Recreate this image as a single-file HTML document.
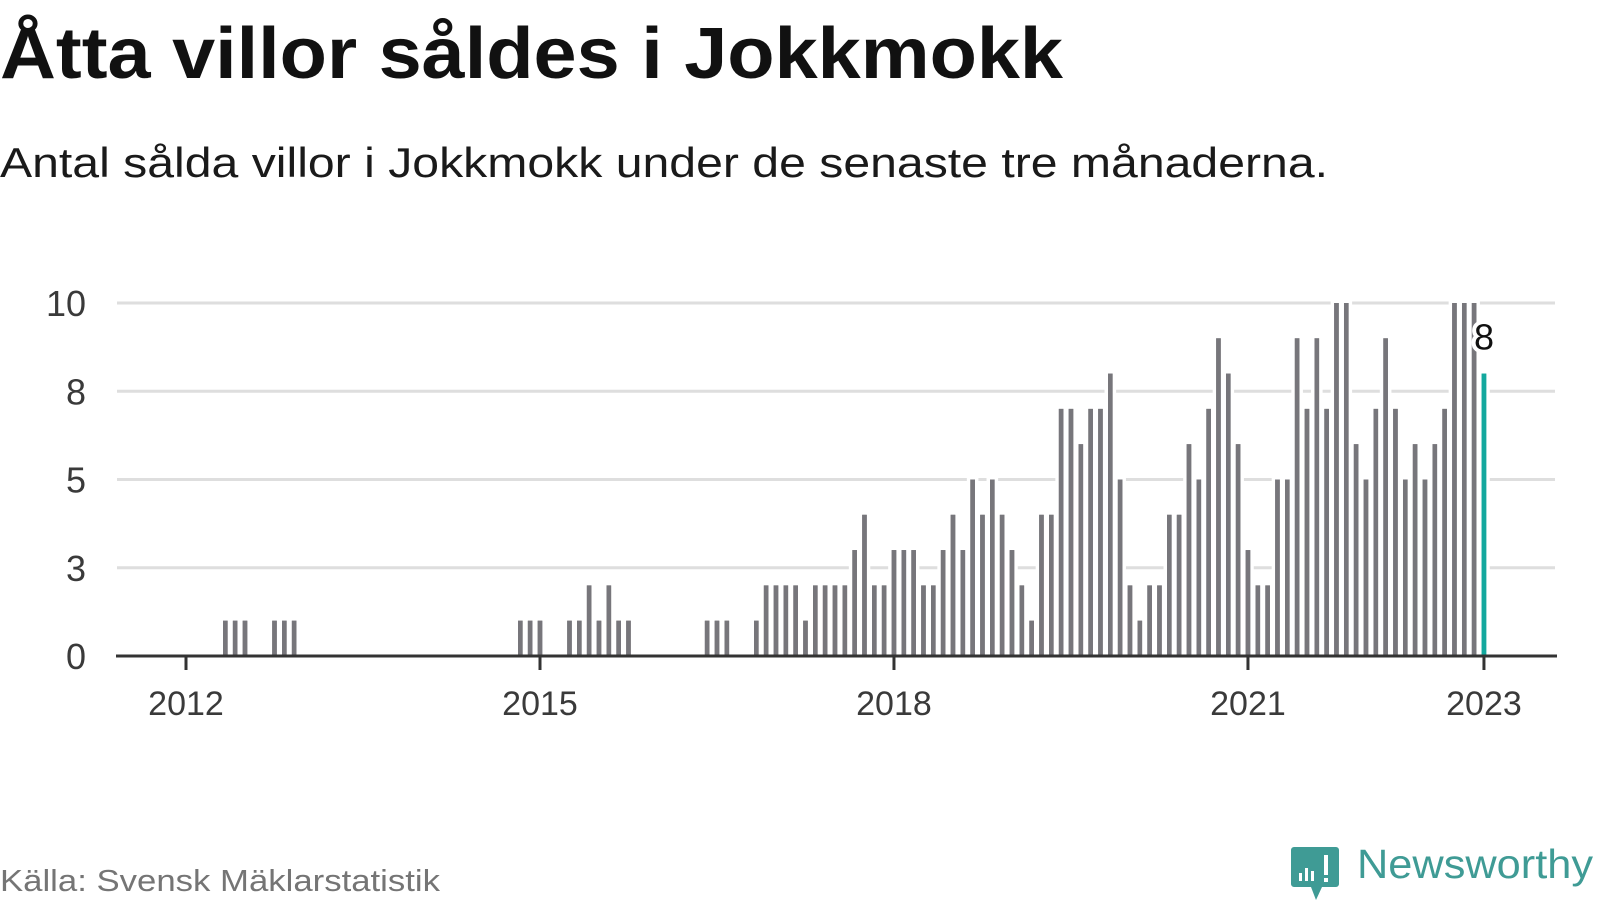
<!DOCTYPE html>
<html><head><meta charset="utf-8"><style>
html,body{margin:0;padding:0;background:#fff;}
svg{display:block;font-family:"Liberation Sans",sans-serif;}
</style></head><body>
<svg width="1600" height="900" viewBox="0 0 1600 900">
<text x="0" y="78" font-size="72" font-weight="bold" fill="#111" textLength="1063" lengthAdjust="spacingAndGlyphs">Åtta villor såldes i Jokkmokk</text>
<text x="0" y="177" font-size="42" fill="#1a1a1a" textLength="1328" lengthAdjust="spacingAndGlyphs">Antal sålda villor i Jokkmokk under de senaste tre månaderna.</text>
<g id="grid"></g>
<g id="bars"></g>
<g id="axes"></g>
<text x="0" y="891" font-size="31" fill="#757575" textLength="440" lengthAdjust="spacingAndGlyphs">Källa: Svensk Mäklarstatistik</text>
<g>
<path d="M1294 847 h42 a3 3 0 0 1 3 3 v34 a3 3 0 0 1 -3 3 h-14 l-6 13 l-5 -13 h-17 a3 3 0 0 1 -3 -3 v-34 a3 3 0 0 1 3 -3z" fill="#3f9b95"/>
<rect x="1299" y="873" width="3" height="8" fill="#fff"/><rect x="1305" y="868" width="3" height="13" fill="#fff"/><rect x="1311" y="871" width="3" height="10" fill="#fff"/><rect x="1324" y="855" width="4" height="20" fill="#fff"/><rect x="1324" y="878" width="4" height="4" fill="#fff"/>
<text x="1357" y="878" font-size="41" fill="#3f9b95" textLength="236" lengthAdjust="spacingAndGlyphs">Newsworthy</text>
</g>
</svg>
<script>
const values = [0,0,0,0,1,1,1,0,0,1,1,1,
0,0,0,0,0,0,0,0,0,0,0,0,
0,0,0,0,0,0,0,0,0,0,1,1,
1,0,0,1,1,2,1,2,1,1,0,0,
0,0,0,0,0,1,1,1,0,0,1,2,
2,2,2,1,2,2,2,2,3,4,2,2,
3,3,3,2,2,3,4,3,5,4,5,4,
3,2,1,4,4,7,7,6,7,7,8,5,
2,1,2,2,4,4,6,5,7,9,8,6,
3,2,2,5,5,9,7,9,7,10,10,6,
5,7,9,7,5,6,5,6,7,10,10,10,
8];
const startYear = 2012;
const yTicks = [0,2.5,5,7.5,10];
const yTickLabels = ['0','3','5','8','10'];
const xTickYears = [2012,2015,2018,2021,2023];
const ns='http://www.w3.org/2000/svg';
const X0=186, MW=9.833, Y0=656, YU=35.3;
const xs = m => X0 + m*MW;
const ys = v => Y0 - v*YU;
function mk(tag, attrs, parent){const e=document.createElementNS(ns,tag);for(const k in attrs)e.setAttribute(k,attrs[k]);parent.appendChild(e);return e;}
const grid=document.getElementById('grid'), bars=document.getElementById('bars'), axes=document.getElementById('axes');
yTicks.forEach((t,i)=>{
  if(t>0){const l=mk('line',{x1:117,x2:1555,y1:ys(t),y2:ys(t),stroke:'#dedede','stroke-width':3},grid);
  
  }
  const tx=mk('text',{x:86,y:ys(t)+13,'font-size':36,fill:'#3a3a3a','text-anchor':'end'},axes);
  tx.textContent=yTickLabels[i];
  
  
});
const last=values.length-1;
values.forEach((v,i)=>{
  if(v<=0)return;
  const r=mk('rect',{x:xs(i)-2.3,y:ys(v),width:4.6,height:v*YU,fill:i===last?'#13a89e':'#77767b',stroke:'#fff','stroke-width':7,'paint-order':'stroke'},bars);
  
  
});
// redraw fills over white halos so neighbouring bars stay intact
values.forEach((v,i)=>{
  if(v<=0)return;
  const r=mk('rect',{x:xs(i)-2.3,y:ys(v),width:4.6,height:v*YU,fill:i===last?'#13a89e':'#77767b'},bars);
  
  
});
const ax=mk('line',{x1:116,x2:1557,y1:Y0,y2:Y0,stroke:'#333','stroke-width':3},axes);


xTickYears.forEach(yr=>{
  const x=xs((yr-startYear)*12);
  const t=mk('line',{x1:x,x2:x,y1:Y0,y2:Y0+14,stroke:'#333','stroke-width':3},axes);
  
  
  const tx=mk('text',{x:x,y:715,'font-size':34,fill:'#3a3a3a','text-anchor':'middle'},axes);
  tx.textContent=String(yr);
  
  
});
const lbl=mk('text',{x:xs(last),y:ys(values[last])-24,'font-size':36,fill:'#111','text-anchor':'middle',stroke:'#fff','stroke-width':8,'paint-order':'stroke'},axes);
lbl.textContent=String(values[last]);


</script>
</body></html>
